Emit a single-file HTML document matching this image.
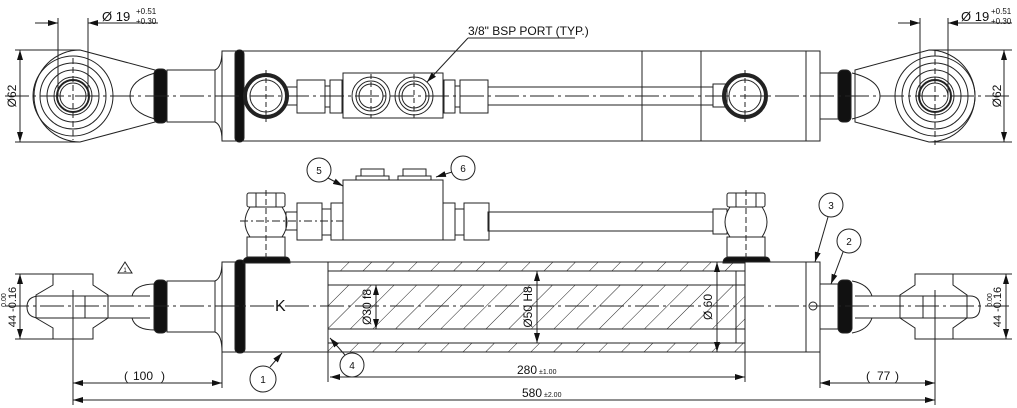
<!DOCTYPE html>
<html><head><meta charset="utf-8"><style>
html,body{margin:0;padding:0;background:#fff;}
svg{display:block;}
text{font-family:"Liberation Sans",sans-serif;fill:#111;}
</style></head><body>
<svg width="1017" height="408" viewBox="0 0 1017 408" xmlns="http://www.w3.org/2000/svg">
<defs>
<pattern id="h" width="16" height="16" patternUnits="userSpaceOnUse" patternTransform="rotate(45)">
<line x1="0" y1="0" x2="0" y2="16" stroke="#222" stroke-width="1"/>
</pattern>
<marker id="a" viewBox="0 0 10 6" refX="10" refY="3" markerWidth="10" markerHeight="6" orient="auto-start-reverse" markerUnits="userSpaceOnUse"><path d="M0,0L10,3L0,6z" fill="#111"/></marker>
</defs>
<g fill="none" stroke="#222" stroke-width="1">

<!-- ===== TOP VIEW ===== -->
<!-- left eye -->
<path d="M80,50 L155,70 L155,122 L80,142 A46,46 0 0 1 80,50z" fill="#fff"/>
<circle cx="73" cy="96" r="40"/><circle cx="73" cy="96" r="33"/><circle cx="73" cy="96" r="26"/>
<circle cx="73" cy="96" r="19"/><circle cx="73" cy="96" r="16" stroke-width="2"/><circle cx="73" cy="96" r="13"/>
<path d="M155,73 Q130,80 130,96 Q130,112 155,119"/>
<rect x="154" y="69" width="13" height="54" rx="5" fill="#111"/>
<rect x="167" y="70" width="48" height="52"/>
<path d="M215,70 Q222,67 222,51 M215,122 Q222,125 222,141"/>
<!-- body -->
<rect x="222" y="51" width="598" height="90"/>
<line x1="642" y1="51" x2="642" y2="141"/><line x1="701" y1="51" x2="701" y2="141"/><line x1="806" y1="51" x2="806" y2="141"/>
<rect x="235" y="50" width="9" height="92" rx="4" fill="#111"/>
<circle cx="266" cy="96" r="21" stroke-width="4"/><circle cx="266" cy="96" r="16"/>
<rect x="286" y="87" width="11" height="18"/>
<rect x="297" y="80" width="28" height="33"/><rect x="325" y="86" width="5" height="21"/><rect x="330" y="80" width="12" height="33"/>
<rect x="343" y="73" width="100" height="45" fill="#fff"/>
<circle cx="371" cy="96" r="19"/><circle cx="371" cy="96" r="15"/><circle cx="371" cy="96" r="12"/>
<circle cx="414" cy="96" r="19"/><circle cx="414" cy="96" r="15"/><circle cx="414" cy="96" r="12"/>
<rect x="444" y="80" width="11" height="33"/><rect x="455" y="86" width="5" height="21"/><rect x="460" y="80" width="28" height="33"/>
<rect x="488" y="87" width="225" height="18"/>
<rect x="713" y="84" width="14" height="23"/>
<circle cx="745" cy="96" r="21" stroke-width="4"/><circle cx="745" cy="96" r="16"/>
<!-- right rod & eye -->
<rect x="820" y="73" width="20" height="46"/>
<path d="M855,70 L929,50 A46,46 0 0 1 929,142 L855,122z" fill="#fff"/>
<path d="M852,73 Q880,80 880,96 Q880,112 852,119"/>
<rect x="838" y="70" width="13" height="52" rx="5" fill="#111"/>
<circle cx="935" cy="96" r="40"/><circle cx="935" cy="96" r="33"/><circle cx="935" cy="96" r="26"/>
<circle cx="935" cy="96" r="19"/><circle cx="935" cy="96" r="16" stroke-width="2"/><circle cx="935" cy="96" r="13"/>
<!-- centerlines -->
<line x1="5" y1="96" x2="1012" y2="96" stroke-dasharray="24,4,3,4"/>
<line x1="73" y1="58" x2="73" y2="140" stroke-dasharray="6,3"/><line x1="935" y1="50" x2="935" y2="145" stroke-dasharray="6,3"/>
<line x1="266" y1="70" x2="266" y2="122" stroke-dasharray="5,3"/><line x1="745" y1="70" x2="745" y2="122" stroke-dasharray="5,3"/>
<line x1="371" y1="74" x2="371" y2="118" stroke-dasharray="5,3"/><line x1="414" y1="74" x2="414" y2="118" stroke-dasharray="5,3"/>
<!-- dims top -->
<line x1="58" y1="18" x2="58" y2="96"/><line x1="88" y1="18" x2="88" y2="96"/>
<line x1="35" y1="23" x2="58" y2="23" marker-end="url(#a)"/><line x1="158" y1="23" x2="88" y2="23" marker-end="url(#a)"/>
<line x1="920" y1="18" x2="920" y2="96"/><line x1="948" y1="18" x2="948" y2="96"/>
<line x1="898" y1="23" x2="920" y2="23" marker-end="url(#a)"/><line x1="1012" y1="23" x2="948" y2="23" marker-end="url(#a)"/>
<line x1="15" y1="50" x2="80" y2="50"/><line x1="15" y1="142" x2="80" y2="142"/>
<line x1="20" y1="96" x2="20" y2="50" marker-end="url(#a)"/><line x1="20" y1="96" x2="20" y2="142" marker-end="url(#a)"/>
<line x1="929" y1="50" x2="1012" y2="50"/><line x1="929" y1="142" x2="1012" y2="142"/>
<line x1="1004" y1="96" x2="1004" y2="50" marker-end="url(#a)"/><line x1="1004" y1="96" x2="1004" y2="142" marker-end="url(#a)"/>
<line x1="468" y1="38" x2="575" y2="38"/><line x1="468" y1="38" x2="427" y2="82" marker-end="url(#a)"/>

<!-- ===== BOTTOM VIEW ===== -->
<!-- left rod end -->
<path d="M53,285 L53,274 L93,274 L93,285 L108,295 L108,318 L93,328 L93,339 L53,339 L53,328 L36,318 L36,295z" fill="#fff"/>
<path d="M40,296 L150,296 M40,318 L150,318"/>
<path d="M40,296 Q27,296 27,307 Q27,318 40,318"/>
<line x1="85" y1="296" x2="85" y2="318"/>
<path d="M155,284 Q135,284 132,296 M155,330 Q135,330 132,318"/>
<rect x="154" y="280" width="13" height="53" rx="5" fill="#111"/>
<rect x="167" y="281" width="48" height="51"/>
<path d="M215,281 Q222,278 222,262 M215,332 Q222,335 222,352"/>
<!-- left head -->
<rect x="222" y="262" width="106" height="90" fill="#fff"/>
<rect x="235" y="260" width="10" height="93" rx="4" fill="#111"/>
<!-- left port -->
<path d="M243,263 Q243,257 250,257 L285,257 Q290,257 290,263z" fill="#111"/>
<rect x="247" y="237" width="38" height="20"/>
<path d="M250,207 Q240,222 250,237 L282,237 Q292,222 282,207z" fill="#fff"/>
<rect x="247" y="193" width="38" height="14" rx="2"/>
<line x1="256" y1="193" x2="256" y2="207"/><line x1="276" y1="193" x2="276" y2="207"/>
<rect x="286" y="212" width="11" height="18"/>
<rect x="297" y="203" width="25" height="37"/><rect x="322" y="209" width="9" height="26"/><rect x="331" y="203" width="12" height="37"/>
<rect x="343" y="180" width="100" height="60" fill="#fff"/>
<rect x="356" y="176" width="33" height="4"/><rect x="361" y="169" width="23" height="7"/>
<rect x="398" y="176" width="33" height="4"/><rect x="403" y="169" width="23" height="7"/>
<rect x="443" y="203" width="12" height="37"/><rect x="455" y="209" width="9" height="26"/><rect x="464" y="203" width="25" height="37"/>
<rect x="488" y="212" width="225" height="19"/>
<rect x="713" y="209" width="14" height="25"/>
<path d="M730,207 Q720,222 730,237 L762,237 Q772,222 762,207z" fill="#fff"/>
<rect x="727" y="193" width="38" height="14" rx="2"/>
<line x1="736" y1="193" x2="736" y2="207"/><line x1="756" y1="193" x2="756" y2="207"/>
<rect x="727" y="237" width="38" height="20"/>
<path d="M723,263 Q723,257 730,257 L765,257 Q770,257 770,263z" fill="#111"/>
<!-- hatched tube -->
<rect x="328" y="262" width="417" height="9" fill="url(#h)"/>
<rect x="328" y="343" width="417" height="9" fill="url(#h)"/>
<rect x="328" y="285" width="417" height="44" fill="url(#h)"/>
<rect x="328" y="262" width="417" height="90"/>
<line x1="328" y1="271" x2="745" y2="271"/><line x1="328" y1="343" x2="745" y2="343"/>
<line x1="736" y1="271" x2="736" y2="343"/>
<!-- right head -->
<rect x="745" y="262" width="75" height="90" fill="#fff"/>
<line x1="806" y1="262" x2="806" y2="352"/>
<circle cx="813" cy="306" r="4"/>
<!-- right rod end -->
<rect x="820" y="284" width="18" height="45"/>
<path d="M852,281 Q868,284 872,296 M852,333 Q868,330 872,318"/>
<rect x="838" y="280" width="14" height="53" rx="5" fill="#111"/>
<path d="M915,285 L915,274 L953,274 L953,285 L967,295 L967,318 L953,328 L953,339 L915,339 L915,328 L900,318 L900,295z" fill="#fff"/>
<path d="M855,296 L970,296 Q980,296 980,307 Q980,318 970,318 L855,318"/>
<line x1="923" y1="296" x2="923" y2="318"/>
<!-- centerlines bottom -->
<line x1="5" y1="306" x2="1012" y2="306" stroke-dasharray="24,4,3,4"/>
<line x1="266" y1="190" x2="266" y2="262" stroke-dasharray="6,3"/><line x1="746" y1="190" x2="746" y2="262" stroke-dasharray="6,3"/>
<line x1="240" y1="221" x2="343" y2="221" stroke-dasharray="8,3,2,3"/>
<!-- dims bottom -->
<line x1="15" y1="274" x2="55" y2="274"/><line x1="15" y1="339" x2="55" y2="339"/>
<line x1="20" y1="306" x2="20" y2="274" marker-end="url(#a)"/><line x1="20" y1="306" x2="20" y2="339" marker-end="url(#a)"/>
<line x1="953" y1="274" x2="1012" y2="274"/><line x1="953" y1="339" x2="1012" y2="339"/>
<line x1="1006" y1="306" x2="1006" y2="274" marker-end="url(#a)"/><line x1="1006" y1="306" x2="1006" y2="339" marker-end="url(#a)"/>
<line x1="73" y1="290" x2="73" y2="405"/><line x1="222" y1="352" x2="222" y2="388"/>
<line x1="328" y1="352" x2="328" y2="382"/><line x1="745" y1="352" x2="745" y2="382"/>
<line x1="820" y1="352" x2="820" y2="388"/><line x1="935" y1="290" x2="935" y2="405"/>
<line x1="73" y1="383" x2="222" y2="383" marker-start="url(#a)" marker-end="url(#a)"/>
<line x1="330" y1="377" x2="745" y2="377" marker-start="url(#a)" marker-end="url(#a)"/>
<line x1="820" y1="383" x2="935" y2="383" marker-start="url(#a)" marker-end="url(#a)"/>
<line x1="73" y1="400" x2="935" y2="400" marker-start="url(#a)" marker-end="url(#a)"/>
<line x1="376" y1="285" x2="376" y2="329" marker-start="url(#a)" marker-end="url(#a)"/>
<line x1="537" y1="271" x2="537" y2="343" marker-start="url(#a)" marker-end="url(#a)"/>
<line x1="717" y1="262" x2="717" y2="352" marker-start="url(#a)" marker-end="url(#a)"/>
<!-- balloons -->
<circle cx="263" cy="379" r="13"/><line x1="270" y1="367" x2="282" y2="353" marker-end="url(#a)"/>
<circle cx="352" cy="365" r="12"/><line x1="345" y1="355" x2="330" y2="338" marker-end="url(#a)"/>
<circle cx="319" cy="170" r="12"/><line x1="328" y1="178" x2="343" y2="186" marker-end="url(#a)"/>
<circle cx="463" cy="168" r="12"/><line x1="452" y1="172" x2="436" y2="177" marker-end="url(#a)"/>
<circle cx="831" cy="205" r="12"/><line x1="828" y1="217" x2="815" y2="262" marker-end="url(#a)"/>
<circle cx="849" cy="241" r="12"/><line x1="843" y1="252" x2="831" y2="284" marker-end="url(#a)"/>
<path d="M118,273 L125,262 L132,273z"/>
</g>

<!-- texts -->
<g font-size="12">
<text x="102" y="21" font-size="13">Ø 19</text><text x="136" y="14" font-size="8">+0.51</text><text x="136" y="24" font-size="8">+0.30</text>
<text x="961" y="21" font-size="13">Ø 19</text><text x="991" y="14" font-size="8">+0.51</text><text x="991" y="24" font-size="8">+0.30</text>
<text x="468" y="35" font-size="12">3/8" BSP PORT (TYP.)</text>
<text transform="translate(16,96) rotate(-90)" text-anchor="middle" font-size="12">Ø62</text>
<text transform="translate(1001,96) rotate(-90)" text-anchor="middle" font-size="12">Ø62</text>
<text transform="translate(16,307) rotate(-90)" text-anchor="middle" font-size="11">44 -0.16</text>
<text transform="translate(6,300) rotate(-90)" text-anchor="middle" font-size="7">0.00</text>
<text transform="translate(1001,307) rotate(-90)" text-anchor="middle" font-size="11">44 -0.16</text>
<text transform="translate(992,300) rotate(-90)" text-anchor="middle" font-size="7">0.00</text>
<text transform="translate(371,307) rotate(-90)" text-anchor="middle" font-size="12">Ø30 f8</text>
<text transform="translate(532,307) rotate(-90)" text-anchor="middle" font-size="12">Ø50 H8</text>
<text transform="translate(712,307) rotate(-90)" text-anchor="middle" font-size="12">Ø 60</text>
<text x="275" y="311" font-size="16">K</text>
<text x="124" y="380">(</text><text x="133" y="380">100</text><text x="161" y="380">)</text>
<text x="866" y="380">(</text><text x="877" y="380">77</text><text x="895" y="380">)</text>
<text x="517" y="374">280</text><text x="539" y="374" font-size="7">±1.00</text>
<text x="522" y="397">580</text><text x="544" y="397" font-size="7">±2.00</text>
<g font-size="10" text-anchor="middle">
<text x="263" y="383">1</text><text x="352" y="369">4</text><text x="319" y="174">5</text><text x="463" y="172">6</text><text x="831" y="209">3</text><text x="849" y="245">2</text>
<text x="125" y="272" font-size="6">1</text>
</g>
</g>
</svg>
</body></html>
